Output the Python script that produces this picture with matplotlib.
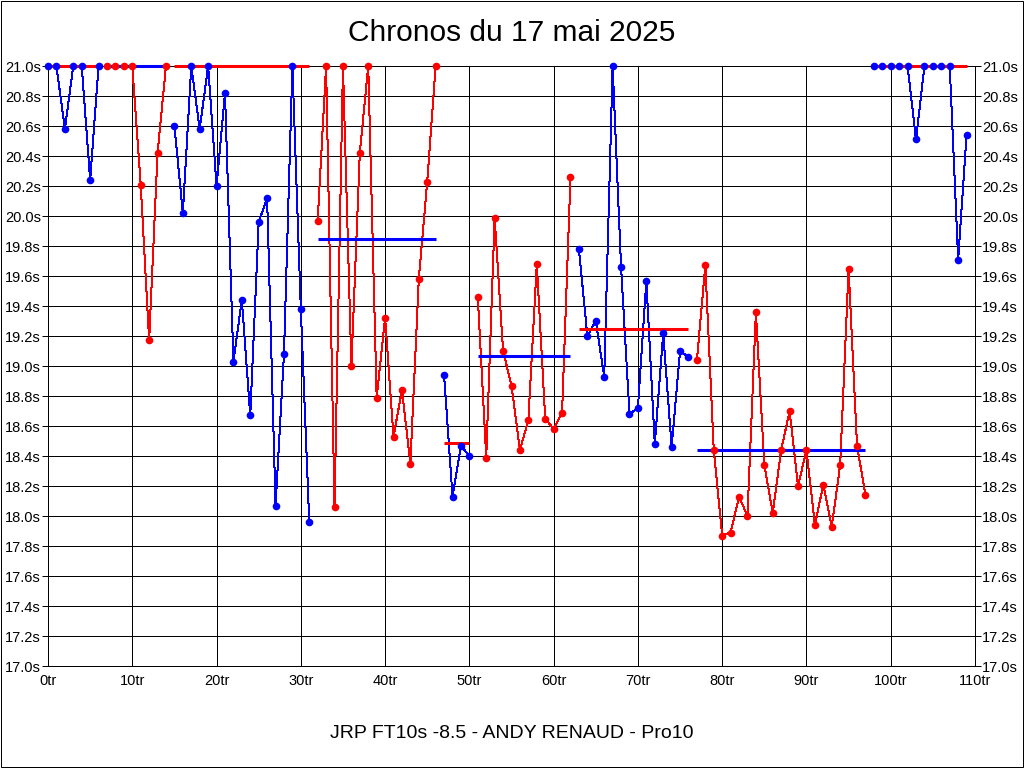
import matplotlib.pyplot as plt
from matplotlib.patches import Rectangle

plt.rcParams['font.family'] = ['Liberation Sans', 'DejaVu Sans']

# lap times (s), one per lap from lap 0
lap_times = [
    21.0, 21.0, 20.58, 21.0, 21.0, 20.24, 21.0,
    21.0, 21.0, 21.0, 21.0, 20.21, 19.17, 20.42, 21.0,
    20.60, 20.02, 21.0, 20.58, 21.0, 20.20, 20.82, 19.03, 19.44, 18.67,
    19.96, 20.12, 18.07, 19.08, 21.0, 19.38, 17.96,
    19.97, 21.0, 18.06, 21.0, 19.00, 20.42, 21.0, 18.79, 19.32, 18.53,
    18.84, 18.35, 19.58, 20.23, 21.0,
    18.94, 18.13, 18.47, 18.40,
    19.46, 18.39, 19.99, 19.10, 18.87, 18.44, 18.64, 19.68, 18.65, 18.58,
    18.69, 20.26,
    19.78, 19.20, 19.30, 18.93, 21.0, 19.66, 18.68, 18.72, 19.57, 18.48,
    19.22, 18.46, 19.10, 19.06,
    19.04, 19.67, 18.44, 17.87, 17.89, 18.13, 18.00, 19.36, 18.34, 18.02,
    18.44, 18.70, 18.20, 18.44, 17.94, 18.21, 17.93, 18.34, 19.65, 18.47, 18.14,
    21.0, 21.0, 21.0, 21.0, 21.0, 20.51, 21.0, 21.0, 21.0, 21.0, 19.71, 20.54,
]

# stints: first and last lap, colour of the data, average shown (capped at 21s)
stint_first = [0, 7, 15, 32, 47, 51, 63, 77, 98]
stint_last = [6, 14, 31, 46, 50, 62, 76, 97, 109]
stint_colors = ['blue', 'red', 'blue', 'red', 'blue', 'red', 'blue', 'red', 'blue']
stint_avgs = [21.0, 21.0, 21.0, 19.845, 18.485, 19.065, 19.25, 18.44, 21.0]

fig = plt.figure(figsize=(10.24, 7.68), dpi=100)
ax = fig.add_axes([48 / 1024, 102 / 768, 927 / 1024, 600 / 768])

for first, last, col, avg in zip(stint_first, stint_last, stint_colors, stint_avgs):
    laps = list(range(first, last + 1))
    vals = lap_times[first:last + 1]
    other = 'red' if col == 'blue' else 'blue'
    ax.plot(laps, vals, color=col, lw=0.72, antialiased=False, zorder=2)
    ax.plot([first, last], [avg, avg], color=other, lw=2.2,
            solid_capstyle='butt', zorder=3, clip_on=False)
    ax.plot(laps, vals, 'o', color=col, ms=5.5, mew=0, zorder=4, clip_on=False)

ax.set_xlim(0, 110)
ax.set_ylim(17.0, 21.0)
xt = list(range(0, 111, 10))
ax.set_xticks(xt)
ax.set_xticklabels([f"{v}tr" for v in xt], fontsize=10.5)
yt = [17.0 + 0.2 * i for i in range(21)]
ax.set_yticks(yt)
ax.set_yticklabels([f"{v:.1f}s" for v in yt], fontsize=10.5)
ax.tick_params(axis='y', which='both', left=True, right=True,
               labelleft=True, labelright=True, length=4, width=0.72,
               color='black', pad=1)
ax.tick_params(axis='x', length=0, pad=6)
ax.grid(True, color='black', lw=0.72, antialiased=False)
ax.set_axisbelow(True)
for s in ax.spines.values():
    s.set_color('black')
    s.set_linewidth(0.72)

fig.text(0.5, 1 - 33 / 768, "Chronos du 17 mai 2025", ha='center', va='center',
         fontsize=21.5)
fig.text(0.5, 1 - 733 / 768, "JRP FT10s -8.5 - ANDY RENAUD - Pro10", ha='center',
         va='center', fontsize=14)
fig.patches.append(Rectangle((0.0005, 0.0007), 0.999, 0.9986, transform=fig.transFigure,
                             fill=False, edgecolor='black', lw=0.72))

fig.savefig('out.png', dpi=100)
